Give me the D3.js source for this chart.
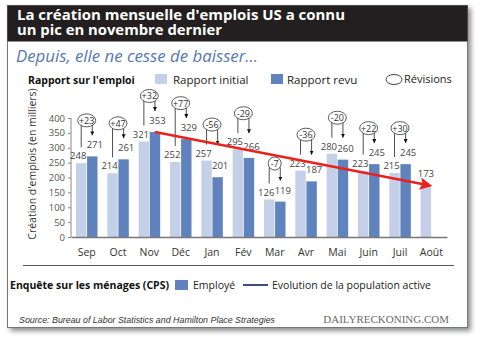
<!DOCTYPE html>
<head>
	<meta charset="utf-8">
	<script type="text/javascript" src="https://cdn.jsdelivr.net/npm/d3@7"></script>
	<style>
		body { margin: 0; background: #fff; }
	</style>
</head>
<body>
	<script type="text/javascript">

	var months = ["Sep", "Oct", "Nov", "Déc", "Jan", "Fév", "Mar", "Avr", "Mai", "Juin", "Juil", "Août"];
	var initial = [248, 214, 321, 252, 257, 295, 126, 223, 280, 223, 215, 173];
	var revised = [271, 261, 353, 329, 201, 266, 119, 187, 260, 245, 245, null];
	var revisions = ["+23", "+47", "+32", "+77", "-56", "-29", "-7", "-36", "-20", "+22", "+30", null];
	var yTicks = [0, 50, 100, 150, 200, 250, 300, 350, 400];
	// red trend arrow: from the Nov revised figure to the Aug first estimate
	var trendFrom = ["Nov", 353];
	var trendTo = ["Août", 173];

	var w = 480;
	var h = 339;
	var font = "'Open Sans', sans-serif";
	var light = "#c3d0e7";
	var dark = "#6183bd";

	var svg = d3.select("body")
	.append("svg")
	.attr("width", w)
	.attr("height", h);

	var defs = svg.append("defs");
	var shadow = defs.append("filter").attr("id", "shadow")
	.attr("x", "-5%").attr("y", "-5%").attr("width", "115%").attr("height", "115%");
	shadow.append("feDropShadow")
	.attr("dx", 3).attr("dy", 3).attr("stdDeviation", 2.5)
	.attr("flood-color", "#000").attr("flood-opacity", 0.45);

	defs.append("marker").attr("id", "tri")
	.attr("viewBox", "0 0 10 10").attr("refX", 5).attr("refY", 10)
	.attr("markerWidth", 5).attr("markerHeight", 5).attr("orient", "0")
	.append("path").attr("d", "M0,0L10,0L5,10Z").attr("fill", "#111");

	// frame + title bar
	svg.append("rect")
	.attr("x", 7.5).attr("y", 5.5).attr("width", 460).attr("height", 322)
	.attr("fill", "#fff").attr("stroke", "#777").attr("filter", "url(#shadow)");
	svg.append("rect")
	.attr("x", 7.5).attr("y", 5.5).attr("width", 460).attr("height", 36)
	.attr("fill", "#231f20");

	var title = svg.append("text")
	.attr("font-family", font).attr("font-weight", "bold").attr("font-size", "14.5px")
	.attr("fill", "#fff");
	title.append("tspan").attr("x", 17).attr("y", 19.5)
	.attr("textLength", 328).attr("lengthAdjust", "spacingAndGlyphs")
	.text("La création mensuelle d'emplois US a connu");
	title.append("tspan").attr("x", 17).attr("y", 34.5)
	.attr("textLength", 205).attr("lengthAdjust", "spacingAndGlyphs")
	.text("un pic en novembre dernier");

	svg.append("text").attr("x", 16).attr("y", 62)
	.attr("font-family", font).attr("font-style", "italic").attr("font-size", "16px")
	.attr("textLength", 242).attr("lengthAdjust", "spacingAndGlyphs")
	.attr("fill", "#5578b6").text("Depuis, elle ne cesse de baisser...");

	// legend row
	svg.append("text").attr("x", 28).attr("y", 84)
	.attr("font-family", font).attr("font-weight", "bold").attr("font-size", "10.5px")
	.attr("fill", "#111").text("Rapport sur l'emploi");
	svg.append("rect").attr("x", 155).attr("y", 74).attr("width", 12).attr("height", 10).attr("fill", light);
	svg.append("text").attr("x", 173).attr("y", 84)
	.attr("font-family", font).attr("font-size", "11.5px").attr("fill", "#222").text("Rapport initial");
	svg.append("rect").attr("x", 271).attr("y", 74).attr("width", 12).attr("height", 10).attr("fill", dark);
	svg.append("text").attr("x", 287).attr("y", 84)
	.attr("font-family", font).attr("font-size", "11.5px").attr("fill", "#222").text("Rapport revu");
	svg.append("ellipse").attr("cx", 394).attr("cy", 79.5).attr("rx", 8).attr("ry", 5)
	.attr("fill", "none").attr("stroke", "#444");
	svg.append("text").attr("x", 404).attr("y", 83)
	.attr("font-family", font).attr("font-size", "11px").attr("fill", "#222").text("Révisions");

	// scales
	var xscale = d3.scaleBand()
	.domain(months)
	.range([71, 447]);

	var inner = d3.scaleBand()
	.domain(["initial", "revised"])
	.range([5, 26.5])
	.paddingInner(0.06);

	var yscale = d3.scaleLinear()
	.domain([0, 400])
	.range([237, 118]);

	var data = months.map(function(m, i){
		return {month: m, initial: initial[i], revised: revised[i], rev: revisions[i]};
	});

	// y axis
	var yAxis = d3.axisLeft(yscale).tickValues(yTicks).tickSize(3).tickPadding(3);
	var gy = svg.append("g").attr("transform", "translate(71,0)").call(yAxis);
	gy.select(".domain").attr("stroke", "#888").attr("d", "M0," + yscale(400) + "V" + yscale(0));
	gy.selectAll(".tick line").attr("stroke", "#888");
	gy.selectAll("text").attr("font-family", font).attr("font-size", "9.5px").attr("fill", "#555");

	svg.append("text")
	.attr("transform", "translate(36,164) rotate(-90)")
	.attr("text-anchor", "middle")
	.attr("font-family", font).attr("font-size", "10.5px").attr("fill", "#333")
	.text("Création d'emplois (en milliers)");

	// bars
	var groups = svg.selectAll("g.month")
	.data(data)
	.enter()
	.append("g")
	.attr("class", "month")
	.attr("transform", function(d){ return "translate(" + xscale(d.month) + ",0)"; });

	groups.append("rect")
	.attr("x", inner("initial"))
	.attr("width", inner.bandwidth())
	.attr("y", function(d){ return yscale(d.initial); })
	.attr("height", function(d){ return yscale(0) - yscale(d.initial); })
	.attr("fill", light);

	groups.filter(function(d){ return d.revised != null; })
	.append("rect")
	.attr("x", inner("revised"))
	.attr("width", inner.bandwidth())
	.attr("y", function(d){ return yscale(d.revised); })
	.attr("height", function(d){ return yscale(0) - yscale(d.revised); })
	.attr("fill", dark);

	// x axis
	var xAxis = d3.axisBottom(xscale).tickSize(0).tickPadding(12);
	var gx = svg.append("g").attr("transform", "translate(0," + yscale(0) + ")").call(xAxis);
	gx.select(".domain").attr("stroke", "#777").attr("stroke-width", 1.5);
	gx.selectAll("text").attr("font-family", font).attr("font-size", "10.5px").attr("fill", "#333");

	// value labels
	var half = inner.bandwidth() / 2;
	groups.append("text")
	.attr("x", function(d){ return inner("initial") + half - (d.revised == null ? 0 : 3); })
	.attr("y", function(d){ return yscale(d.initial) - (d.revised == null ? 9 : 4); })
	.attr("text-anchor", "middle")
	.attr("font-family", font).attr("font-size", "9.5px").attr("fill", "#444")
	.text(function(d){ return d.initial; });

	groups.filter(function(d){ return d.revised != null; })
	.append("text")
	.attr("x", inner("revised") + half + 2.5)
	.attr("y", function(d){ return yscale(d.revised) - 8; })
	.attr("text-anchor", "middle")
	.attr("font-family", font).attr("font-size", "9.5px").attr("fill", "#444")
	.text(function(d){ return d.revised; });

	// revision callouts
	var callouts = groups.filter(function(d){ return d.rev != null; });
	function topOf(d){ return yscale(Math.max(d.initial, d.revised)) - 36; }
	function radius(d){ return d.rev.length > 2 ? 9 : 6.5; }

	callouts.append("line")
	.attr("x1", inner("initial") + half)
	.attr("x2", inner("initial") + half)
	.attr("y1", function(d){ return topOf(d) + 4; })
	.attr("y2", function(d){ return yscale(d.initial) - 16; })
	.attr("stroke", "#222").attr("stroke-width", 0.8);

	callouts.append("line")
	.attr("x1", inner("revised") + half)
	.attr("x2", inner("revised") + half)
	.attr("y1", function(d){ return topOf(d) + 4; })
	.attr("y2", function(d){ return Math.min(yscale(d.revised) - 21, topOf(d) + 20); })
	.attr("stroke", "#222").attr("stroke-width", 0.8)
	.attr("marker-end", "url(#tri)");

	callouts.append("ellipse")
	.attr("cx", xscale.bandwidth() / 2)
	.attr("cy", function(d){ return topOf(d); })
	.attr("rx", radius)
	.attr("ry", 6.5)
	.attr("fill", "#fff").attr("stroke", "#333").attr("stroke-width", 0.8);

	callouts.append("text")
	.attr("x", xscale.bandwidth() / 2)
	.attr("y", function(d){ return topOf(d) + 3.5; })
	.attr("text-anchor", "middle")
	.attr("font-family", font).attr("font-size", "9px").attr("fill", "#333")
	.text(function(d){ return d.rev; });

	// trend arrow
	defs.append("marker").attr("id", "redhead")
	.attr("viewBox", "0 0 10 10").attr("refX", 8).attr("refY", 5)
	.attr("markerWidth", 5).attr("markerHeight", 5).attr("orient", "auto")
	.attr("markerUnits", "strokeWidth")
	.append("path").attr("d", "M0,0L10,5L0,10L2,5Z").attr("fill", "#e8231d");

	svg.append("line")
	.attr("x1", xscale(trendFrom[0]) + inner("revised") + half)
	.attr("y1", yscale(trendFrom[1]))
	.attr("x2", xscale(trendTo[0]) + inner("initial") + half + 4)
	.attr("y2", yscale(trendTo[1]))
	.attr("stroke", "#e8231d").attr("stroke-width", 2.5)
	.attr("marker-end", "url(#redhead)");

	// household survey legend
	svg.append("line").attr("x1", 23).attr("x2", 454).attr("y1", 265.5).attr("y2", 265.5)
	.attr("stroke", "#555").attr("stroke-width", 1);
	svg.append("text").attr("x", 10).attr("y", 289)
	.attr("font-family", font).attr("font-weight", "bold").attr("font-size", "10.5px")
	.attr("fill", "#111").text("Enquête sur les ménages (CPS)");
	svg.append("rect").attr("x", 175).attr("y", 280).attr("width", 13).attr("height", 10).attr("fill", dark);
	svg.append("text").attr("x", 193).attr("y", 289)
	.attr("font-family", font).attr("font-size", "10.5px").attr("fill", "#222").text("Employé");
	svg.append("line").attr("x1", 243).attr("x2", 268).attr("y1", 285).attr("y2", 285)
	.attr("stroke", "#3c4c7c").attr("stroke-width", 2);
	svg.append("text").attr("x", 272).attr("y", 289)
	.attr("font-family", font).attr("font-size", "10.5px").attr("fill", "#222").text("Evolution de la population active");

	svg.append("text").attr("x", 19).attr("y", 323)
	.attr("font-family", "'Liberation Sans', Arial, sans-serif").attr("font-style", "italic").attr("font-size", "8.5px")
	.attr("textLength", 256).attr("lengthAdjust", "spacingAndGlyphs")
	.attr("fill", "#333").text("Source: Bureau of Labor Statistics and Hamilton Place Strategies");
	svg.append("text").attr("x", 449).attr("y", 323)
	.attr("text-anchor", "end")
	.attr("font-family", "'Liberation Serif', 'DejaVu Serif', serif").attr("font-size", "11px")
	.attr("fill", "#6a6a6a").text("DAILYRECKONING.COM");

	</script>
</body>
</html>
